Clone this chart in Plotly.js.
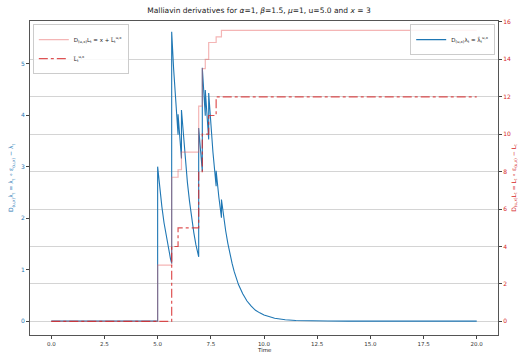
<!DOCTYPE html>
<html>
<head>
<meta charset="utf-8">
<script src="https://cdn.plot.ly/plotly-3.0.1.min.js"></script>
<style>html,body{margin:0;padding:0;background:#fff;}#chart{width:518px;height:354px;}</style>
</head>
<body>
<div id="chart"></div>
<script>
// Blue: D_{(u,x)} lambda_t  (left axis)
const lambdaTime = [0, 5.0, 5.0, 5.1, 5.2, 5.3, 5.4, 5.5, 5.6, 5.66, 5.66, 5.75, 5.85, 5.96, 5.96, 6.04, 6.12, 6.12,
  6.2, 6.3, 6.4, 6.5, 6.6, 6.7, 6.8, 6.93, 6.93, 7.0, 7.1, 7.1, 7.17, 7.24, 7.24, 7.32, 7.4, 7.4, 7.5, 7.6,
  7.75, 7.75, 7.88, 8.0, 8.0, 8.1, 8.2, 8.3, 8.4, 8.5, 8.6, 8.8, 9.0, 9.2, 9.4, 9.6, 9.8, 10.0, 10.5, 11.0,
  11.5, 12.0, 13.0, 14.0, 20.0];
const lambdaDeriv = [0, 0, 3.0, 2.58, 2.22, 1.91, 1.65, 1.42, 1.22, 1.12, 5.62, 4.91, 4.23, 3.62, 4.02, 3.57, 3.16, 4.10,
  3.64, 3.13, 2.69, 2.32, 2.00, 1.72, 1.48, 1.25, 3.75, 3.38, 2.91, 4.92, 4.43, 3.99, 4.49, 3.98, 3.53, 4.43, 3.81, 3.28,
  2.62, 2.92, 2.40, 2.01, 2.36, 2.03, 1.75, 1.51, 1.30, 1.12, 0.96, 0.71, 0.53, 0.39, 0.29, 0.21, 0.16, 0.12, 0.056, 0.026,
  0.012, 0.006, 0.001, 0, 0];

// Pink: D_{(u,x)} L_t = x + L~  (right axis, step)
const lossTime  = [0, 5.0, 5.66, 5.96, 6.12, 6.93, 7.1, 7.24, 7.4, 7.75, 8.0, 20.0];
const lossDeriv = [0, 3.0, 7.7, 8.1, 9.04, 11.5, 13.5, 14.0, 14.9, 15.2, 15.55, 15.55];

// Red dash-dot: L~  (right axis, step)
const lTildeTime = [0, 5.66, 5.96, 6.93, 7.1, 7.4, 7.75, 20.0];
const lTilde     = [0, 4, 5, 8, 10, 11, 12, 12];

const xTicks = [0, 2.5, 5, 7.5, 10, 12.5, 15, 17.5, 20];
const leftTicks = [0, 1, 2, 3, 4, 5];
const rightTicks = [0, 2, 4, 6, 8, 10, 12, 14, 16];

const BLUE = '#1f77b4';
const RED = '#d62728';
const FONT = 'DejaVu Sans, sans-serif';

const traces = [
  {
    x: lambdaTime, y: lambdaDeriv, type: 'scatter', mode: 'lines',
    line: {color: BLUE, width: 1.1},
    name: 'D<sub>(u,x)</sub>λ<sub>t</sub> = λ̃<sub>t</sub><sup>u,x</sup>',
    xaxis: 'x', yaxis: 'y', legend: 'legend2'
  },
  {
    x: lossTime, y: lossDeriv, type: 'scatter', mode: 'lines',
    line: {color: 'rgba(230,90,90,0.45)', width: 1.2, shape: 'hv'},
    name: 'D<sub>(u,x)</sub>L<sub>t</sub> = x + L̃<sub>t</sub><sup>u,x</sup>',
    xaxis: 'x', yaxis: 'y2', legend: 'legend'
  },
  {
    x: lTildeTime, y: lTilde, type: 'scatter', mode: 'lines',
    line: {color: 'rgba(214,39,40,0.8)', width: 1.2, shape: 'hv', dash: 'dashdot'},
    name: 'L̃<sub>t</sub><sup>u,x</sup>',
    xaxis: 'x', yaxis: 'y2', legend: 'legend'
  }
];

const layout = {
  width: 518, height: 354,
  margin: {l: 30, r: 20, t: 21, b: 19},
  paper_bgcolor: '#fff', plot_bgcolor: '#fff',
  font: {family: FONT, size: 6, color: '#333'},
  showlegend: true,
  title: {
    text: 'Malliavin derivatives for <i>α</i>=1, <i>β</i>=1.5, <i>μ</i>=1, u=5.0 and <i>x</i> = 3',
    font: {family: FONT, size: 7.5, color: '#222'},
    x: 0.5, xanchor: 'center', yref: 'container', y: 0.972, yanchor: 'middle'
  },
  xaxis: {
    range: [-1, 21], tickvals: xTicks, ticktext: xTicks.map(v => v.toFixed(1)),
    ticks: 'outside', ticklen: 3, tickcolor: '#444', tickfont: {size: 5.5, color: '#333'},
    showline: true, linecolor: '#555', linewidth: 1, mirror: true,
    showgrid: false, zeroline: false, automargin: false
  },
  yaxis: {
    range: [-0.27, 5.83], tickvals: leftTicks, ticktext: leftTicks.map(String),
    ticks: 'outside', ticklen: 3, tickcolor: '#444', tickfont: {size: 6, color: BLUE},
    showline: true, linecolor: '#555', linewidth: 1, mirror: true,
    showgrid: false, zeroline: false, automargin: false,
    title: {text: 'D<sub>(u,x)</sub>λ<sub>t</sub> = λ<sub>t</sub> ∘ ε<sub>(u,x)</sub> − λ<sub>t</sub>', font: {size: 6, color: BLUE}, standoff: 6}
  },
  yaxis2: {
    range: [-0.73, 16.05], tickvals: rightTicks, ticktext: rightTicks.map(String),
    overlaying: 'y', side: 'right',
    ticks: 'outside', ticklen: 3, tickcolor: '#444', tickfont: {size: 6, color: RED},
    showline: true, linecolor: '#555', linewidth: 1,
    showgrid: true, gridcolor: '#d4d4d4', gridwidth: 1, zeroline: false, automargin: false,
    title: {text: 'D<sub>(u,x)</sub>L<sub>t</sub> = L<sub>t</sub> ∘ ε<sub>(u,x)</sub> − L<sub>t</sub>', font: {size: 6, color: RED}, standoff: 6}
  },
  annotations: [{
    text: 'Time', xref: 'paper', yref: 'paper', x: 0.5, y: -0.034,
    xanchor: 'center', yanchor: 'top', showarrow: false, borderpad: 0,
    font: {size: 5.5, color: '#222'}
  }],
  legend: {
    x: 0.006, y: 0.99, xanchor: 'left', yanchor: 'top',
    bgcolor: 'rgba(255,255,255,0.85)', bordercolor: '#ccc', borderwidth: 1,
    font: {size: 5.5, color: '#222'}, tracegroupgap: 0, itemwidth: 30
  },
  legend2: {
    x: 0.994, y: 0.99, xanchor: 'right', yanchor: 'top',
    bgcolor: 'rgba(255,255,255,0.85)', bordercolor: '#ccc', borderwidth: 1,
    font: {size: 5.5, color: '#222'}, itemwidth: 30
  }
};

Plotly.newPlot('chart', traces, layout, {displayModeBar: false, staticPlot: true});
</script>
</body>
</html>
